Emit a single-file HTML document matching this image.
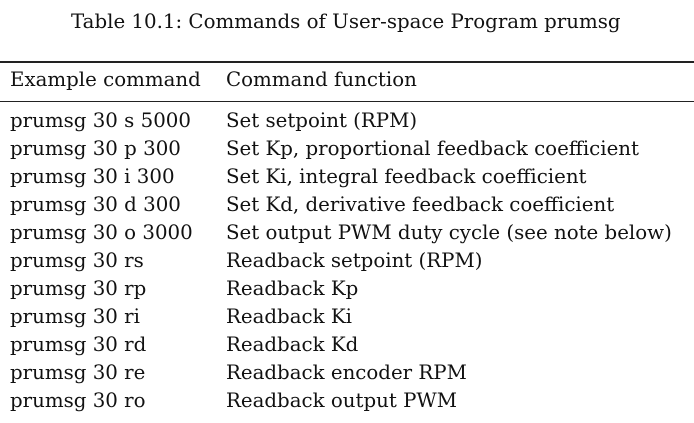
<!DOCTYPE html>
<html><head><meta charset="utf-8"><style>
body{margin:0;width:694px;height:423px;background:#fff;position:relative;overflow:hidden;font-family:"DejaVu Serif","Liberation Serif",serif;font-size:19.8px;color:#111}
.t{position:absolute;white-space:nowrap;line-height:1}
.r{position:absolute;left:0;width:694px;background:#222}
</style></head><body>
<div class="t" style="left:71px;top:12px">Table 10.1: Commands of User-space Program prumsg</div>
<div class="r" style="top:61px;height:2px"></div>
<div class="t" style="left:10px;top:70px">Example command</div>
<div class="t" style="left:226px;top:70px">Command function</div>
<div class="r" style="top:101px;height:1px"></div>
<div class="t" style="left:10px;top:107px;line-height:28px">prumsg 30 s 5000<br>prumsg 30 p 300<br>prumsg 30 i 300<br>prumsg 30 d 300<br>prumsg 30 o 3000<br>prumsg 30 rs<br>prumsg 30 rp<br>prumsg 30 ri<br>prumsg 30 rd<br>prumsg 30 re<br>prumsg 30 ro</div>
<div class="t" style="left:226px;top:107px;line-height:28px">Set setpoint (RPM)<br>Set Kp, proportional feedback coefficient<br>Set Ki, integral feedback coefficient<br>Set Kd, derivative feedback coefficient<br>Set output PWM duty cycle (see note below)<br>Readback setpoint (RPM)<br>Readback Kp<br>Readback Ki<br>Readback Kd<br>Readback encoder RPM<br>Readback output PWM</div>
</body></html>
